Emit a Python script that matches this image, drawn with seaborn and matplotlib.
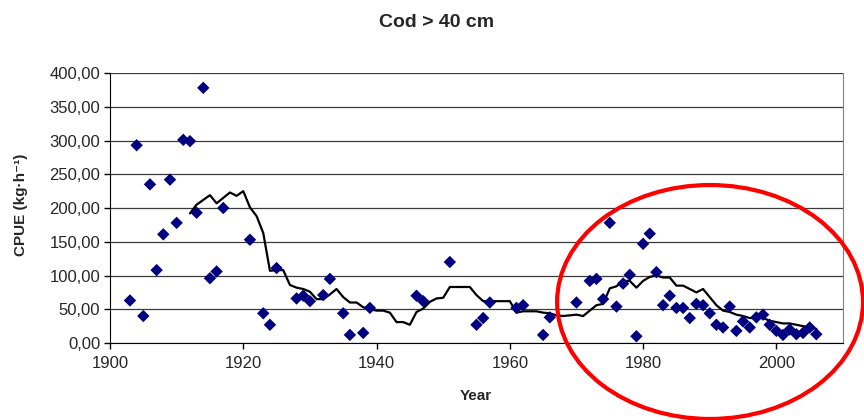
import numpy as np
import pandas as pd
import seaborn as sns
import matplotlib.pyplot as plt
from matplotlib.patches import Ellipse

# Observed CPUE (diamonds)
pointYears = [1903, 1904, 1905, 1906, 1907, 1908, 1909, 1910, 1911, 1912, 1913, 1914, 1915, 1916, 1917,
              1921, 1923, 1924, 1925, 1928, 1929, 1930, 1932, 1933, 1935, 1936, 1938, 1939, 1946, 1947,
              1951, 1955, 1956, 1957, 1961, 1962, 1965, 1966, 1970, 1972, 1973, 1974, 1975, 1976, 1977,
              1978, 1979, 1980, 1981, 1982, 1983, 1984, 1985, 1986, 1987, 1988, 1989, 1990, 1991, 1992,
              1993, 1994, 1995, 1996, 1997, 1998, 1999, 2000, 2001, 2002, 2003, 2004, 2005, 2006]
pointCpue = [63, 293, 40, 235, 108, 161, 242, 178, 301, 299, 193, 378, 96, 106, 200,
             153, 44, 27, 111, 66, 70, 62, 71, 95, 44, 12, 15, 52, 70, 62,
             120, 27, 37, 60, 52, 56, 12, 38, 60, 92, 95, 65, 178, 54, 88,
             101, 10, 147, 162, 105, 56, 70, 52, 52, 37, 58, 56, 44, 27, 23,
             54, 18, 32, 23, 38, 42, 27, 18, 12, 20, 13, 15, 23, 13]

# Running mean (black line)
lineYears = list(range(1912, 2007))
lineCpue = [192, 205, 212, 219, 207, 215, 223, 218, 225, 201, 188, 163, 107, 108, 108, 86, 82, 80, 76, 65,
            65, 72, 80, 68, 60, 60, 53, 50, 48, 48, 45, 31, 31, 27, 46, 51, 61, 66, 67, 83,
            83, 83, 83, 71, 62, 62, 62, 62, 62, 45, 47, 47, 47, 45, 44, 41, 40, 41, 42, 40,
            48, 56, 58, 81, 84, 92, 92, 82, 92, 98, 100, 97, 97, 85, 85, 80, 75, 80, 68, 56,
            48, 46, 42, 40, 37, 37, 37, 33, 31, 29, 29, 27, 25, 23, 21]

xTicks = [1900, 1920, 1940, 1960, 1980, 2000]
yTicks = [0, 50, 100, 150, 200, 250, 300, 350, 400]
yTickLabels = ['0,00', '50,00', '100,00', '150,00', '200,00', '250,00', '300,00', '350,00', '400,00']

dfPoints = pd.DataFrame({'Year': pointYears, 'CPUE': pointCpue})
dfLine = pd.DataFrame({'Year': lineYears, 'CPUE': lineCpue})

sns.set_style('ticks')
plt.rcParams['font.family'] = ['Liberation Sans', 'DejaVu Sans']

fig = plt.figure(figsize=(8.64, 4.2), dpi=100)
ax = fig.add_axes([0.1273, 0.1833, 0.8484, 0.6429])

for yv in yTicks:
    ax.axhline(yv, color='#3a3a3a', lw=0.9, zorder=0)

sns.lineplot(x='Year', y='CPUE', data=dfLine, color='black', lw=1.6, ax=ax, zorder=3)
sns.scatterplot(x='Year', y='CPUE', data=dfPoints, marker='D', s=40, color='#000080',
                edgecolor='none', ax=ax, zorder=4)

ax.set_xlim(1900, 2010)
ax.set_ylim(0, 400)
ax.set_xticks(xTicks)
ax.set_yticks(yTicks)
ax.set_yticklabels(yTickLabels)
ax.tick_params(axis='both', direction='out', length=4, width=1, color='black', labelsize=12, pad=3)
ax.tick_params(axis='x', pad=5)
ax.set_xlabel('Year', fontsize=11, fontweight='bold')
ax.xaxis.set_label_coords(0.4993, -0.172)
ax.set_ylabel('CPUE (kg·h⁻¹)', fontsize=11, fontweight='bold')
ax.yaxis.set_label_coords(-0.112, 0.51)
ax.text(0.445, 1.170, 'Cod > 40 cm', transform=ax.transAxes, ha='center', va='baseline',
        fontsize=14, fontweight='bold')

ax.spines['top'].set_visible(False)
ax.spines['right'].set_color('#808080')
ax.spines['left'].set_color('black')
ax.spines['bottom'].set_color('black')

# red highlight ellipse
fig.add_artist(Ellipse((0.8218, 0.281), 0.354, 0.557, transform=fig.transFigure,
                       fill=False, edgecolor='#ff0000', lw=3, zorder=10))

fig.savefig('out.png', dpi=100)
